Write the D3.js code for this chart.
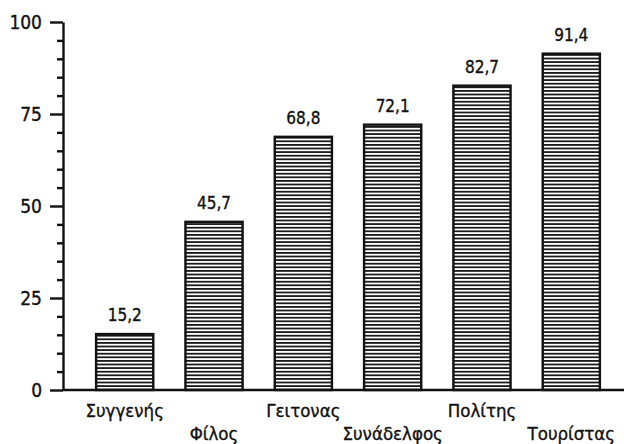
<!DOCTYPE html>
<html>
<head>
<meta charset="utf-8">
<script src="https://cdn.jsdelivr.net/npm/d3@7"></script>
<style>
  body { margin: 0; background: #fff; }
  svg text { font-family: "Liberation Sans Narrow", "DejaVu Sans Condensed", sans-serif; fill: #111; stroke: #111; stroke-width: 0.35px; }
</style>
</head>
<body>
<div id="chart"></div>
<script>
// chart values
const categories = ["Συγγενής", "Φίλος", "Γειτονας", "Συνάδελφος", "Πολίτης", "Τουρίστας"];
const values = [15.2, 45.7, 68.8, 72.1, 82.7, 91.4];
const valueLabels = ["15,2", "45,7", "68,8", "72,1", "82,7", "91,4"];
const yTicks = [0, 25, 50, 75, 100];
const yMinorTicks = [5, 10, 15, 20, 30, 35, 40, 45, 55, 60, 65, 70, 80, 85, 90, 95];

const width = 624, height = 444;
const margin = [22, 54, 63, 0]; // top, bottom, left, right

const svg = d3.select("#chart").append("svg")
    .attr("width", width)
    .attr("height", height);

// horizontal hatching used inside the bars
const pattern = svg.append("defs").append("pattern")
    .attr("id", "hatch")
    .attr("patternUnits", "userSpaceOnUse")
    .attr("width", 8)
    .attr("height", 3.6);
pattern.append("rect").attr("width", 8).attr("height", 3.6).attr("fill", "#fff");
pattern.append("rect").attr("width", 8).attr("height", 1.8).attr("fill", "#1a1a1a");

const chartHeight = height - margin[0] - margin[1];

const x = d3.scaleBand()
    .domain(categories)
    .range([margin[2] + 9, width - margin[3]])
    .paddingInner(0.36)
    .paddingOuter(0.27);

const y = d3.scaleLinear()
    .domain([0, 100])
    .range([margin[0] + chartHeight, margin[0]]);

// bars
svg.append("g").selectAll("rect")
    .data(values)
    .join("rect")
    .attr("x", (d, i) => x(categories[i]))
    .attr("y", d => y(d))
    .attr("width", x.bandwidth())
    .attr("height", d => y(0) - y(d))
    .attr("fill", "url(#hatch)")
    .attr("stroke", "#111")
    .attr("stroke-width", 2.4);

// value labels above bars
svg.append("g").selectAll("text")
    .data(values)
    .join("text")
    .attr("x", (d, i) => x(categories[i]) + x.bandwidth() / 2)
    .attr("y", d => y(d) - 13)
    .attr("text-anchor", "middle")
    .style("font-size", "17px")
    .text((d, i) => valueLabels[i]);

// baseline
svg.append("line")
    .attr("x1", margin[2])
    .attr("x2", width)
    .attr("y1", y(0))
    .attr("y2", y(0))
    .attr("stroke", "#111")
    .attr("stroke-width", 2.4);

// category labels, staggered on two rows
svg.append("g").selectAll("text")
    .data(categories)
    .join("text")
    .attr("x", d => x(d) + x.bandwidth() / 2)
    .attr("y", (d, i) => i % 2 === 0 ? y(0) + 27 : y(0) + 50)
    .attr("text-anchor", "middle")
    .style("font-size", "18.5px")
    .text(d => d);

// y-axis: minor ticks then major ticks with labels
const minorAxis = svg.append("g")
    .attr("transform", `translate(${margin[2]},0)`)
    .call(d3.axisLeft(y).tickValues(yMinorTicks).tickSize(6).tickSizeOuter(0).tickFormat(""));

const majorAxis = svg.append("g")
    .attr("transform", `translate(${margin[2]},0)`)
    .call(d3.axisLeft(y).tickValues(yTicks).tickSize(13).tickSizeOuter(0).tickPadding(8));

svg.selectAll(".domain, .tick line")
    .attr("stroke", "#111")
    .attr("stroke-width", 2.4);
minorAxis.select(".domain").remove();
majorAxis.selectAll(".tick text")
    .style("font-size", "19px")
    .attr("font-family", null);
</script>
</body>
</html>
